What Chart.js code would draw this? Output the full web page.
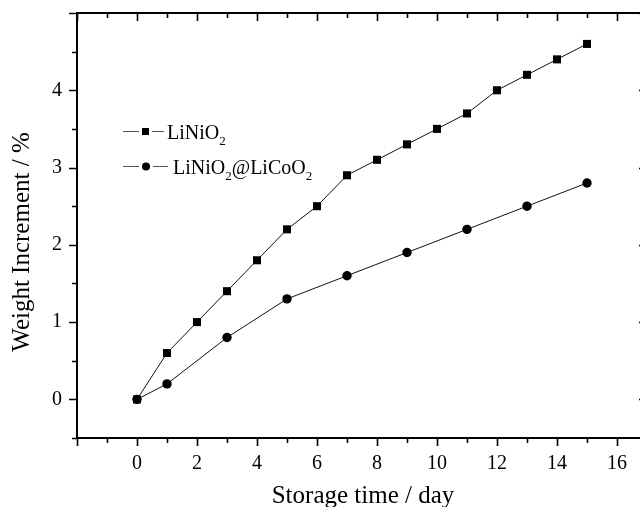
<!DOCTYPE html>
<html>
<head>
<meta charset="utf-8">
<script src="https://cdn.jsdelivr.net/npm/chart.js@4.4.1/dist/chart.umd.min.js"></script>
<style>
  html, body { margin: 0; padding: 0; background: #fff; overflow: hidden; }
  #wrap { width: 640px; height: 507px; overflow: hidden; position: relative; }
  canvas { display: block; }
</style>
</head>
<body>
<div id="wrap"><canvas id="chart" width="660" height="507"></canvas></div>
<script>
// ========================
// DATA
// ========================
const daysLiNiO2 = [0, 1, 2, 3, 4, 5, 6, 7, 8, 9, 10, 11, 12, 13, 14, 15];
const gainLiNiO2 = [0, 0.6, 1.0, 1.4, 1.8, 2.2, 2.5, 2.9, 3.1, 3.3, 3.5, 3.7, 4.0, 4.2, 4.4, 4.6];

const daysCoated = [0, 1, 3, 5, 7, 9, 11, 13, 15];
const gainCoated = [0, 0.2, 0.8, 1.3, 1.6, 1.9, 2.2, 2.5, 2.8];

const xTickLabels = ['0', '2', '4', '6', '8', '10', '12', '14', '16'];
const yTickLabels = ['0', '1', '2', '3', '4'];

const xTitle = 'Storage time / day';
const yTitle = 'Weight Increment / %';

const FONT = '"Liberation Serif", "Times New Roman", serif';
Chart.defaults.font.family = FONT;
Chart.defaults.color = '#000';

function toPoints(xs, ys) {
    return xs.map((x, i) => ({ x: x, y: ys[i] }));
}

// ========================
// FRAME, TICKS, TITLES, LEGEND
// ========================
const framePlugin = {
    id: 'frame',
    afterDraw(chart) {
        const ctx = chart.ctx;
        const a = chart.chartArea;
        const xs = chart.scales.x;
        const ys = chart.scales.y;
        ctx.save();
        ctx.strokeStyle = '#000';

        // ticks
        ctx.lineWidth = 1.6;
        xs.ticks.forEach(t => {
            const px = Math.round(xs.getPixelForValue(t.value)) + 0.5;
            const len = (Math.abs(t.value % 2) < 1e-6) ? 8 : 5;
            ctx.beginPath();
            ctx.moveTo(px, a.bottom); ctx.lineTo(px, a.bottom + len);
            ctx.moveTo(px, a.top); ctx.lineTo(px, a.top + len);
            ctx.stroke();
        });
        ys.ticks.forEach(t => {
            const py = Math.round(ys.getPixelForValue(t.value)) + 0.5;
            const len = (Math.abs(t.value % 1) < 1e-6) ? 8 : 5;
            ctx.beginPath();
            ctx.moveTo(a.left, py); ctx.lineTo(a.left - len, py);
            ctx.moveTo(a.right, py); ctx.lineTo(a.right - len, py);
            ctx.stroke();
        });

        // frame
        ctx.lineWidth = 2;
        ctx.strokeRect(a.left, a.top, a.right - a.left, a.bottom - a.top);

        // axis titles
        ctx.fillStyle = '#000';
        ctx.font = '25px ' + FONT;
        ctx.textAlign = 'center';
        ctx.textBaseline = 'alphabetic';
        ctx.fillText(xTitle, 363, 503);
        ctx.translate(29, 242);
        ctx.rotate(-Math.PI / 2);
        ctx.fillText(yTitle, 0, 0);
        ctx.restore();

        drawLegend(ctx);
    }
};

function subText(ctx, parts, x, y) {
    // parts: [text, isSub]
    parts.forEach(p => {
        ctx.font = (p[1] ? '13px ' : '20px ') + FONT;
        ctx.fillText(p[0], x, y + (p[1] ? 6 : 0));
        x += ctx.measureText(p[0]).width;
    });
}

function drawLegend(ctx) {
    ctx.save();
    ctx.strokeStyle = '#555';
    ctx.lineWidth = 1;
    ctx.fillStyle = '#000';
    ctx.textAlign = 'left';
    ctx.textBaseline = 'alphabetic';

    // row 1: square
    let y = 131.5;
    ctx.beginPath();
    ctx.moveTo(123, y); ctx.lineTo(139, y);
    ctx.moveTo(152, y); ctx.lineTo(164, y);
    ctx.stroke();
    ctx.fillRect(142, y - 3.5, 7, 7);
    subText(ctx, [['LiNiO', false], ['2', true]], 167, y + 7);

    // row 2: circle
    y = 166.5;
    ctx.beginPath();
    ctx.moveTo(123, y); ctx.lineTo(139, y);
    ctx.moveTo(153, y); ctx.lineTo(168, y);
    ctx.stroke();
    ctx.beginPath();
    ctx.arc(146, y, 4, 0, Math.PI * 2);
    ctx.fill();
    subText(ctx, [['LiNiO', false], ['2', true], ['@LiCoO', false], ['2', true]], 173, y + 7);
    ctx.restore();
}

function noPad(s) {
    s.paddingTop = 0;
    s.paddingBottom = 0;
    s.paddingLeft = 0;
    s.paddingRight = 0;
}

// ========================
// CHART
// ========================
new Chart(document.getElementById('chart'), {
    type: 'scatter',
    data: {
        datasets: [{
            label: 'LiNiO2',
            data: toPoints(daysLiNiO2, gainLiNiO2),
            showLine: true,
            borderColor: '#111',
            borderWidth: 1,
            backgroundColor: '#000',
            pointStyle: 'rect',
            pointRadius: 5.7,
            pointBorderWidth: 0
        }, {
            label: 'LiNiO2@LiCoO2',
            data: toPoints(daysCoated, gainCoated),
            showLine: true,
            borderColor: '#111',
            borderWidth: 1,
            backgroundColor: '#000',
            pointStyle: 'circle',
            pointRadius: 4.7,
            pointBorderWidth: 0
        }]
    },
    options: {
        responsive: false,
        animation: false,
        layout: { padding: { top: 13, right: 13, left: 0, bottom: 0 } },
        plugins: {
            legend: { display: false },
            tooltip: { enabled: false }
        },
        scales: {
            x: {
                type: 'linear',
                min: -2,
                max: 17,
                border: { display: false },
                grid: { display: false, drawTicks: false },
                ticks: {
                    stepSize: 1,
                    autoSkip: false,
                    maxRotation: 0,
                    padding: 14,
                    font: { size: 20 },
                    callback: v => xTickLabels.includes(String(v)) ? String(v) : ''
                },
                afterFit: s => { s.height = 69; noPad(s); }
            },
            y: {
                type: 'linear',
                min: -0.5,
                max: 5,
                border: { display: false },
                grid: { display: false, drawTicks: false },
                ticks: {
                    stepSize: 0.5,
                    autoSkip: false,
                    padding: 15,
                    font: { size: 20 },
                    callback: v => yTickLabels.includes(String(v)) ? String(v) : ''
                },
                afterFit: s => { s.width = 77; noPad(s); }
            }
        }
    },
    plugins: [framePlugin]
});
</script>
</body>
</html>
